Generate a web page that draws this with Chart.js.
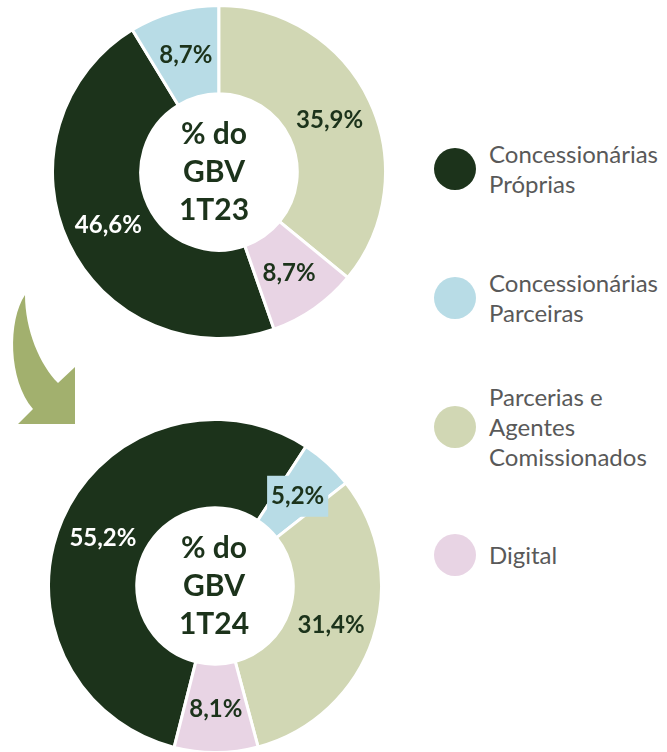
<!DOCTYPE html>
<html>
<head>
<meta charset="utf-8">
<script src="https://cdn.jsdelivr.net/npm/chart.js@4"></script>
<style>
    html, body { margin: 0; padding: 0; background: #fff; }
    body { width: 667px; height: 752px; position: relative; overflow: hidden; font-family: Lato, sans-serif; }
    .donut { position: absolute; }
    .legend-item { position: absolute; left: 434px; display: flex; align-items: center; transform: translateY(-50%); }
    .legend-dot { width: 42px; height: 42px; border-radius: 50%; margin-right: 13px; flex: none; }
    .legend-text { color: #595959; font-size: 24px; line-height: 30px; white-space: pre; }
    #arrow { position: absolute; left: 0; top: 0; }
</style>
</head>
<body>
<svg id="arrow" width="100" height="440">
    <path d="M25,295 C8,320 8,380 33,409 L18,424 L75,424 L75,367 L58,383 C40,365 25,330 25,295 Z" fill="#a2b06e"/>
</svg>
<div class="donut" style="left:51px; top:4px; width:336px; height:336px;"><canvas id="chart1T23"></canvas></div>
<div class="donut" style="left:47px; top:418px; width:336px; height:336px;"><canvas id="chart1T24"></canvas></div>
<div id="legend"></div>

<script>
//============================================= Data =============================================//
const categories = ['Concessionárias Próprias', 'Concessionárias Parceiras', 'Parcerias e Agentes Comissionados', 'Digital'];
const legendLines = ['Concessionárias\nPróprias', 'Concessionárias\nParceiras', 'Parcerias e\nAgentes\nComissionados', 'Digital'];
const colors = ['#1c331b', '#b8dce6', '#d1d7b4', '#e8d4e4'];
const share1T23 = [46.6, 8.7, 35.9, 8.7];
const share1T24 = [55.2, 5.2, 31.4, 8.1];
const centerTitle1T23 = ['% do', 'GBV', '1T23'];
const centerTitle1T24 = ['% do', 'GBV', '1T24'];

const darkText = '#1c331b';

//============================================= Legend =============================================//
const legendY = [169, 298, 427, 555];
legendLines.forEach((text, i) => {
    const item = document.createElement('div');
    item.className = 'legend-item';
    item.style.top = legendY[i] + 'px';
    item.innerHTML = '<span class="legend-dot" style="background:' + colors[i] + '"></span>' +
        '<span class="legend-text">' + text + '</span>';
    document.getElementById('legend').appendChild(item);
});

//============================================= Label plugin =============================================//
const sliceLabels = {
    id: 'sliceLabels',
    afterDatasetsDraw(chart, args, opts) {
        const {ctx} = chart;
        const meta = chart.getDatasetMeta(0);
        const values = chart.data.datasets[0].data;
        ctx.save();
        ctx.font = 'bold 24px Lato';
        ctx.textAlign = 'center';
        ctx.textBaseline = 'middle';
        meta.data.forEach((arc, i) => {
            const p = arc.getCenterPoint();
            const text = values[i].toFixed(1).replace('.', ',') + '%';
            if (opts.boxed && opts.boxed[i]) {
                const w = ctx.measureText(text).width + 8;
                ctx.fillStyle = colors[i];
                ctx.fillRect(p.x - w / 2, p.y - 20, w, 41);
            }
            ctx.fillStyle = i === 0 ? '#ffffff' : darkText;
            ctx.fillText(text, p.x, p.y + 1);
        });

        // texto central
        const c = meta.data[0];
        ctx.font = 'bold 30px Lato';
        ctx.fillStyle = darkText;
        opts.title.forEach((line, k) => {
            ctx.fillText(line, c.x + opts.titleDx, c.y + (k - 1) * 38);
        });
        ctx.restore();
    }
};

//============================================= Doughnuts =============================================//
function makeDoughnut(canvasId, values, rotation, title, titleDx, boxed) {
    return new Chart(document.getElementById(canvasId), {
        type: 'doughnut',
        data: {
            labels: categories,
            datasets: [{
                data: values,
                backgroundColor: colors,
                borderColor: '#ffffff',
                borderWidth: 3,
                borderJoinStyle: 'miter'
            }]
        },
        options: {
            responsive: true,
            maintainAspectRatio: false,
            animation: false,
            cutout: '47%',
            rotation: rotation,
            layout: { padding: 0 },
            plugins: {
                legend: { display: false },
                tooltip: { enabled: false },
                sliceLabels: { title: title, titleDx: titleDx, boxed: boxed }
            }
        },
        plugins: [sliceLabels]
    });
}

makeDoughnut('chart1T23', share1T23, 160.7, centerTitle1T23, -5, [false, false, false, false]);
makeDoughnut('chart1T24', share1T24, 194.2, centerTitle1T24, -1, [false, true, false, false]);
</script>
</body>
</html>
